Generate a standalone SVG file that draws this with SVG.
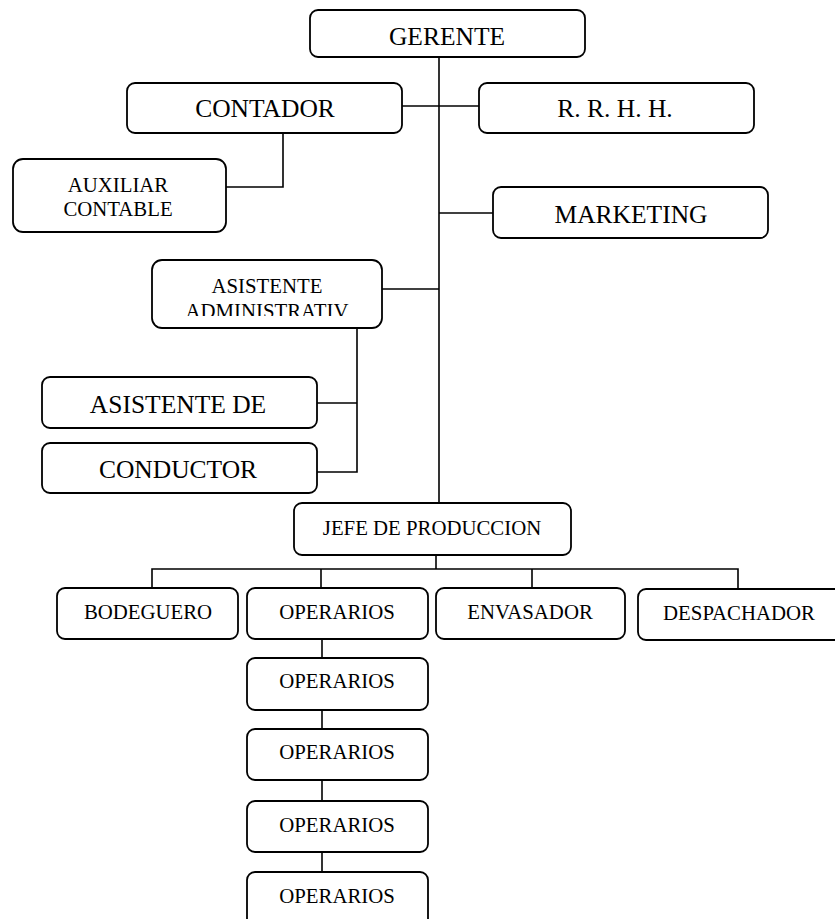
<svg xmlns="http://www.w3.org/2000/svg" width="835" height="919" viewBox="0 0 835 919">
<style>
.box{fill:#fff;stroke:#000;stroke-width:1.8}
.ln{fill:none;stroke:#000;stroke-width:1.6}
text{font-family:"Liberation Serif","Times New Roman",serif;fill:#000;text-anchor:middle}
.big{font-size:25.5px}
.sm{font-size:20.8px}
</style>
<defs>
<clipPath id="clipAdm"><rect x="152" y="260" width="230" height="56"/></clipPath>
</defs>
<g id="connectors">
<path class="ln" d="M439,57 V503"/>
<path class="ln" d="M402,106 H479"/>
<path class="ln" d="M283,133 V187 H226"/>
<path class="ln" d="M439,213 H493"/>
<path class="ln" d="M382,289 H439"/>
<path class="ln" d="M357,328 V472 H317"/>
<path class="ln" d="M357,403 H317"/>
<path class="ln" d="M436,555 V569"/>
<path class="ln" d="M152,588 V569 H738 V589"/>
<path class="ln" d="M321,569 V588"/>
<path class="ln" d="M532,569 V588"/>
<path class="ln" d="M322,639 V658"/>
<path class="ln" d="M322,710 V729"/>
<path class="ln" d="M322,780 V801"/>
<path class="ln" d="M322,852 V872"/>
</g>
<g id="gerente"><rect class="box" x="310" y="10" width="275" height="47" rx="8"/><text class="big" x="447" y="45">GERENTE</text></g>
<g id="contador"><rect class="box" x="127" y="83" width="275" height="50" rx="8"/><text class="big" x="265" y="117">CONTADOR</text></g>
<g id="rrhh"><rect class="box" x="479" y="83" width="275" height="50" rx="8"/><text class="big" x="615" y="117">R. R. H. H.</text></g>
<g id="auxiliar"><rect class="box" x="13" y="159" width="213" height="73" rx="10"/><text class="sm" x="118" y="192">AUXILIAR</text><text class="sm" x="118" y="216">CONTABLE</text></g>
<g id="marketing"><rect class="box" x="493" y="187" width="275" height="51" rx="8"/><text class="big" x="631" y="223">MARKETING</text></g>
<g id="asistente-adm"><rect class="box" x="152" y="260" width="230" height="68" rx="10"/><g clip-path="url(#clipAdm)"><text class="sm" x="267" y="293">ASISTENTE</text><text class="sm" x="267" y="318">ADMINISTRATIV</text></g></g>
<g id="asistente-de"><rect class="box" x="42" y="377" width="275" height="51" rx="8"/><text class="big" x="178" y="413">ASISTENTE DE</text></g>
<g id="conductor"><rect class="box" x="42" y="443" width="275" height="50" rx="8"/><text class="big" x="178" y="478">CONDUCTOR</text></g>
<g id="jefe"><rect class="box" x="294" y="503" width="277" height="52" rx="8"/><text class="sm" x="432" y="535">JEFE DE PRODUCCION</text></g>
<g id="bodeguero"><rect class="box" x="57" y="588" width="181" height="51" rx="8"/><text class="sm" x="148" y="619">BODEGUERO</text></g>
<g id="operarios1"><rect class="box" x="247" y="588" width="181" height="51" rx="8"/><text class="sm" x="337" y="619">OPERARIOS</text></g>
<g id="envasador"><rect class="box" x="436" y="588" width="189" height="51" rx="8"/><text class="sm" x="530" y="619">ENVASADOR</text></g>
<g id="despachador"><rect class="box" x="638" y="589" width="210" height="51" rx="8"/><text class="sm" x="739" y="620">DESPACHADOR</text></g>
<g id="operarios2"><rect class="box" x="247" y="658" width="181" height="52" rx="8"/><text class="sm" x="337" y="688">OPERARIOS</text></g>
<g id="operarios3"><rect class="box" x="247" y="729" width="181" height="51" rx="8"/><text class="sm" x="337" y="759">OPERARIOS</text></g>
<g id="operarios4"><rect class="box" x="247" y="801" width="181" height="51" rx="8"/><text class="sm" x="337" y="832">OPERARIOS</text></g>
<g id="operarios5"><rect class="box" x="247" y="872" width="181" height="60" rx="8"/><text class="sm" x="337" y="903">OPERARIOS</text></g>
</svg>
